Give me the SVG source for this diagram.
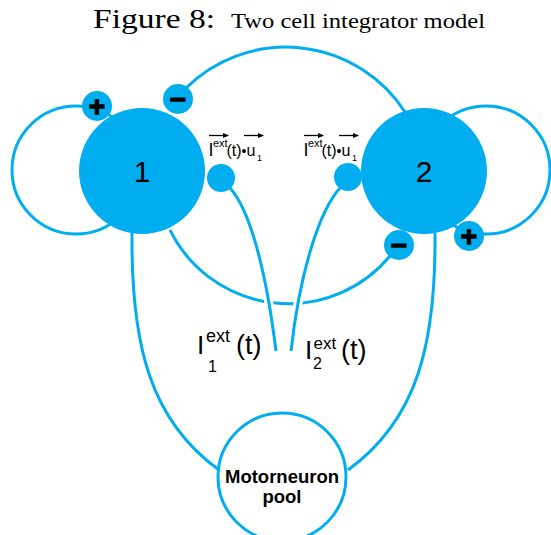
<svg xmlns="http://www.w3.org/2000/svg" width="551" height="535" viewBox="0 0 551 535">
<style>
.ln{fill:none;stroke:#00AEEF;stroke-width:3}
.halo{fill:none;stroke:#fff;stroke-width:9}
.cell{fill:#00AEEF}
.sign{fill:#000;stroke:#000;stroke-width:1.3;font-family:"Liberation Sans",Arial,sans-serif;font-weight:bold;font-size:28px;text-anchor:middle}
.t{font-family:"Liberation Sans",Arial,sans-serif;fill:#000}
.ttl{font-family:"Liberation Serif","Times New Roman",serif;fill:#000}
.vec{stroke:#000;stroke-width:1.3}
</style>
<defs>
<marker id="ah" markerWidth="6" markerHeight="6" refX="5" refY="3" orient="auto" markerUnits="userSpaceOnUse">
<path d="M0,0.5 L6,3 L0,5.5 Z" fill="#000"/>
</marker>
</defs>
<rect width="551" height="535" fill="#fff"/>
<g id="title">
<text class="ttl" x="93" y="28" font-size="27" textLength="122" lengthAdjust="spacingAndGlyphs">Figure 8:</text>
<text class="ttl" x="231" y="28" font-size="20" textLength="254" lengthAdjust="spacingAndGlyphs">Two cell integrator model</text>
</g>
<g id="connectors">
<circle class="ln" cx="76" cy="170" r="64"/>
<circle class="ln" cx="486" cy="170" r="64"/>
<path class="ln" d="M186,88 A142,142 0 0 1 405,112"/>
<path class="ln" d="M170,230 A132,132 0 0 0 390,256"/>
<path class="ln" d="M132,233 C131,345 150,420 219,470"/>
<path class="ln" d="M435,233 C436,345 417,420 348,470"/>
<path class="halo" d="M230,188 C250,210 266,270 276,351"/>
<path class="halo" d="M340,188 C320,210 300,270 291,351"/>
<path class="ln" d="M230,188 C250,210 266,270 276,351"/>
<path class="ln" d="M340,188 C320,210 300,270 291,351"/>
</g>
<g id="cell1">
<circle class="cell" cx="142" cy="171" r="63"/>
<text class="t" x="142" y="182" font-size="30" text-anchor="middle">1</text>
</g>
<g id="cell2">
<circle class="cell" cx="424" cy="171" r="63"/>
<text class="t" x="424" y="182" font-size="30" text-anchor="middle">2</text>
</g>
<g id="plus1">
<circle class="cell" cx="97" cy="106" r="15"/>
<text class="sign" x="97" y="116">+</text>
</g>
<g id="minus1">
<circle class="cell" cx="178" cy="99" r="15"/>
<text class="sign" x="178" y="109">−</text>
</g>
<g id="minus2">
<circle class="cell" cx="399" cy="245" r="15"/>
<text class="sign" x="399" y="255">−</text>
</g>
<g id="plus2">
<circle class="cell" cx="469" cy="236" r="15"/>
<text class="sign" x="469" y="246">+</text>
</g>
<g id="input1">
<circle class="cell" cx="221" cy="178" r="14"/>
<text class="t" y="156" font-size="18"><tspan x="208.5">I</tspan><tspan x="213" y="147" font-size="11">ext</tspan><tspan x="226.5" y="156" font-size="16">(t)</tspan><tspan x="241.5" font-size="14">•</tspan><tspan x="246.5" font-size="16">u</tspan><tspan x="257" y="161" font-size="9">1</tspan></text>
<line class="vec" x1="209" y1="135.5" x2="228" y2="135.5" marker-end="url(#ah)"/>
<line class="vec" x1="244" y1="135.5" x2="263" y2="135.5" marker-end="url(#ah)"/>
</g>
<g id="input2">
<circle class="cell" cx="348" cy="177" r="14"/>
<text class="t" y="156" font-size="18"><tspan x="303.5">I</tspan><tspan x="308" y="147" font-size="11">ext</tspan><tspan x="321.5" y="156" font-size="16">(t)</tspan><tspan x="336.5" font-size="14">•</tspan><tspan x="341.5" font-size="16">u</tspan><tspan x="352" y="161" font-size="9">1</tspan></text>
<line class="vec" x1="304" y1="135.5" x2="323" y2="135.5" marker-end="url(#ah)"/>
<line class="vec" x1="339" y1="135.5" x2="358" y2="135.5" marker-end="url(#ah)"/>
</g>
<g id="label1">
<text class="t" font-size="26"><tspan x="197" y="354">I</tspan><tspan x="206" y="342" font-size="18">ext</tspan><tspan x="236" y="354" font-size="27">(t)</tspan><tspan x="208" y="372" font-size="16">1</tspan></text>
</g>
<g id="label2">
<text class="t" font-size="26"><tspan x="305" y="359">I</tspan><tspan x="313.5" y="349" font-size="17">ext</tspan><tspan x="341" y="359" font-size="27">(t)</tspan><tspan x="313" y="369" font-size="16">2</tspan></text>
</g>
<g id="motorpool">
<circle cx="282" cy="477" r="64" fill="#fff" stroke="#00AEEF" stroke-width="3"/>
<text class="t" x="282" y="483" font-size="18.5" font-weight="bold" text-anchor="middle">Motorneuron</text>
<text class="t" x="282" y="503" font-size="18.5" font-weight="bold" text-anchor="middle">pool</text>
</g>
</svg>
